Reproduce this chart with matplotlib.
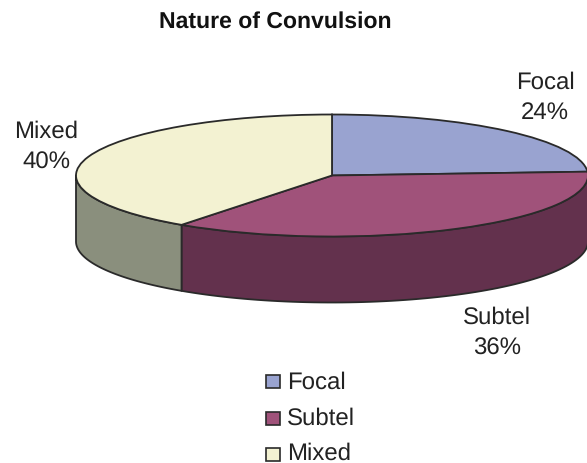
import numpy as np
import matplotlib
matplotlib.use('Agg')
import matplotlib.pyplot as plt
from matplotlib.patches import Rectangle
from matplotlib.transforms import Affine2D

plt.rcParams['font.family'] = ['Liberation Sans', 'DejaVu Sans']
plt.rcParams['text.hinting'] = 'no_hinting'
plt.rcParams['text.hinting_factor'] = 1

labels = ['Focal', 'Subtel', 'Mixed']
shares = [24, 36, 40]
top_colors = ['#99A3D0', '#A0527A', '#F3F2D2']
side_colors = ['#5F6688', '#63314D', '#8A8F7D']
edge = '#2a2a2a'

# pie geometry in image pixels
cx, cy = 332, 176.5
rx, ry = 256, 61
depth = 66

fig = plt.figure(figsize=(5.87, 4.64), dpi=100)
ax = fig.add_axes([0, 0, 1, 1])


def ellipse(angle):
    a = np.radians(angle)
    return cx + rx * np.cos(a), cy - ry * np.sin(a)


# side walls, drawn first so the top sits over them
start = 90
bounds = []
for s in shares:
    bounds.append((start - s * 3.6, start))
    start -= s * 3.6

for (a0, a1), col in zip(bounds, side_colors):
    # only the front half of the rim is visible
    lo = max(a0, -180)
    hi = min(a1, 0)
    if lo >= hi:
        continue
    t = np.linspace(lo, hi, 80)
    x, y = ellipse(t)
    px = np.concatenate([x, x[::-1]])
    py = np.concatenate([y, y[::-1] + depth])
    ax.fill(px, py, facecolor=col, edgecolor=edge, linewidth=1.3, joinstyle='round', zorder=1)

wedges, _ = ax.pie(shares, colors=top_colors, startangle=90, counterclock=False,
                   wedgeprops={'edgecolor': edge, 'linewidth': 1.3})
for w in wedges:
    w.set_transform(Affine2D().scale(rx, -ry).translate(cx, cy) + ax.transData)
    w.set_zorder(2)

ax.set_aspect('auto')
ax.set_xlim(0, 587)
ax.set_ylim(464, 0)
ax.axis('off')

ax.text(275.5, 22, 'Nature of Convulsion', ha='center', va='center',
        fontsize=16.8, fontweight='bold', color='#111111')

label_pos = [(545, 98), (497, 333), (46, 147)]
for name, s, (lx, ly) in zip(labels, shares, label_pos):
    ax.text(lx, ly, f'{name}\n{s}%', ha='center', va='center', fontsize=17,
            linespacing=1.45, color='#222222')

legend_y = [382.5, 419.5, 455.5]
legend_text_y = [383, 419, 454]
for name, col, ly, ty in zip(labels, top_colors, legend_y, legend_text_y):
    ax.add_patch(Rectangle((265.5, ly - 6.5), 14.5, 13, facecolor=col, edgecolor=edge,
                           linewidth=1.2, zorder=3))
    ax.text(287, ty, name, ha='left', va='center', fontsize=17, color='#222222')

fig.savefig('out.png', dpi=100)
